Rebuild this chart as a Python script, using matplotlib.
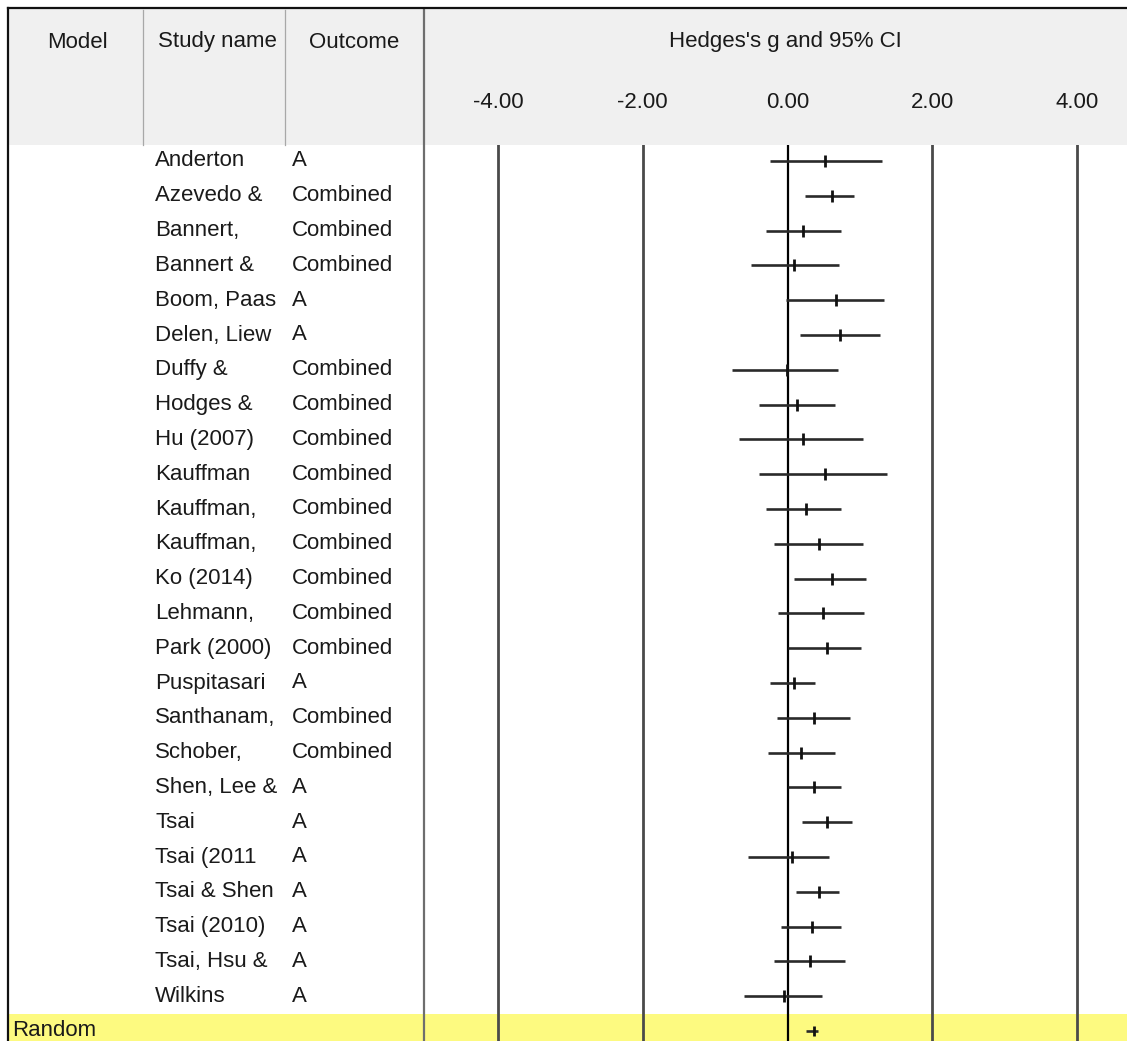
import matplotlib
matplotlib.use("Agg")
import matplotlib.pyplot as plt
import matplotlib.transforms as mtransforms
from matplotlib.patches import Rectangle

plt.rcParams['font.family'] = ['Liberation Sans', 'DejaVu Sans']

# ---------------- data ----------------
studies = ["Anderton", "Azevedo &", "Bannert,", "Bannert &", "Boom, Paas",
           "Delen, Liew", "Duffy &", "Hodges &", "Hu (2007)", "Kauffman",
           "Kauffman,", "Kauffman,", "Ko (2014)", "Lehmann,", "Park (2000)",
           "Puspitasari", "Santhanam,", "Schober,", "Shen, Lee &", "Tsai",
           "Tsai (2011", "Tsai & Shen", "Tsai (2010)", "Tsai, Hsu &", "Wilkins"]
outcomes = ["A", "Combined", "Combined", "Combined", "A",
            "A", "Combined", "Combined", "Combined", "Combined",
            "Combined", "Combined", "Combined", "Combined", "Combined",
            "A", "Combined", "Combined", "A", "A",
            "A", "A", "A", "A", "A"]
g = [0.52, 0.61, 0.21, 0.09, 0.67, 0.73, -0.01, 0.13, 0.21, 0.52,
     0.25, 0.43, 0.61, 0.49, 0.55, 0.09, 0.37, 0.19, 0.37, 0.55,
     0.06, 0.43, 0.34, 0.31, -0.05]
lower = [-0.24, 0.24, -0.30, -0.51, -0.02, 0.17, -0.76, -0.39, -0.67, -0.39,
         -0.30, -0.19, 0.09, -0.13, 0.01, -0.24, -0.15, -0.27, 0.01, 0.20,
         -0.54, 0.12, -0.09, -0.18, -0.60]
upper = [1.31, 0.92, 0.74, 0.71, 1.33, 1.28, 0.70, 0.65, 1.04, 1.37,
         0.74, 1.04, 1.09, 1.06, 1.01, 0.38, 0.86, 0.65, 0.74, 0.89,
         0.58, 0.71, 0.74, 0.80, 0.47]
pooled_label = "Random"
pooled_g = 0.36
pooled_lower = 0.25
pooled_upper = 0.42
ticks = [-4.0, -2.0, 0.0, 2.0, 4.0]
tick_labels = ["-4.00", "-2.00", "0.00", "2.00", "4.00"]
col_headers = ["Model", "Study name", "Outcome"]
plot_title = "Hedges's g and 95% CI"

# ---------------- layout ----------------
W, H = 1127, 1041
fig = plt.figure(figsize=(W / 100, H / 100), dpi=100)
fig.patch.set_facecolor("white")

bg = fig.add_axes([0, 0, 1, 1])
bg.set_xlim(0, W)
bg.set_ylim(H, 0)
bg.axis("off")

# forest axis: px 425..1127 horizontally, 145..1041 vertically
fx0, fx1, fy0, fy1 = 425, W, 145, H
fax = fig.add_axes([fx0 / W, 1 - fy1 / H, (fx1 - fx0) / W, (fy1 - fy0) / H])
fax.patch.set_alpha(0)
zero_px, unit_px = 787.5, 72.4
fax.set_xlim((fx0 - zero_px) / unit_px, (fx1 - zero_px) / unit_px)
row0_px, row_px = 161.0, 34.8
fax.set_ylim((fy1 - row0_px) / row_px, (fy0 - row0_px) / row_px)
fax.axis("off")

txt_color = "#1a1a1a"
fs = 16

# header background
bg.add_patch(Rectangle((8, 8), W - 8, 137, facecolor="#f0f0f0", edgecolor="none", zorder=0))
# pooled row background
n = len(studies)
pooled_row = n
pool_top = row0_px + (pooled_row - 0.5) * row_px
bg.add_patch(Rectangle((8, pool_top), W - 8, H - pool_top, facecolor="#fdfa80",
                       edgecolor="none", zorder=0))
# borders
bg.plot([8, 8], [8, H], color="#111111", lw=1.6, zorder=3)
bg.plot([8, W], [8, 8], color="#111111", lw=1.6, zorder=3)
# header separators
for xs in (143, 285):
    bg.plot([xs, xs], [10, 145], color="#a8a8a8", lw=0.9, zorder=2)
bg.plot([424, 424], [10, H], color="#6e6e6e", lw=1.6, zorder=2)

# header texts
for label, xc in zip(col_headers, (77, 217, 354)):
    bg.text(xc, 42, label, ha="center", va="center", fontsize=fs, color=txt_color)
bg.text(785, 42, plot_title, ha="center", va="center", fontsize=fs, color=txt_color)

# tick labels in header (x from forest axis, y in pixels)
tr_tick = mtransforms.blended_transform_factory(fax.transData, bg.transData)
for t, lab in zip(ticks, tick_labels):
    bg.text(t, 102, lab, transform=tr_tick, ha="center", va="center",
            fontsize=fs, color=txt_color)

# vertical reference lines
for t in ticks:
    if t == 0:
        fax.axvline(t, color="#000000", lw=1.6, zorder=2)
    else:
        fax.axvline(t, color="#4a4a4a", lw=2.0, zorder=2)

# table text (x in pixels, y from forest rows)
tr_row = mtransforms.blended_transform_factory(bg.transData, fax.transData)
for i, (s, o) in enumerate(zip(studies, outcomes)):
    bg.text(155, i, s, transform=tr_row, ha="left", va="center", fontsize=fs, color=txt_color)
    bg.text(292, i, o, transform=tr_row, ha="left", va="center", fontsize=fs, color=txt_color)
bg.text(12, pooled_row, pooled_label, transform=tr_row, ha="left", va="center",
        fontsize=fs, color=txt_color)

# CIs
rows = list(range(n))
fax.hlines(rows, lower, upper, color="#2a2a2a", lw=1.9, zorder=3)
fax.plot(g, rows, linestyle="none", marker="|", markersize=8, mew=2.0,
         color="#111111", zorder=4)
fax.hlines([pooled_row], [pooled_lower], [pooled_upper], color="#2a2a2a", lw=1.9, zorder=3)
fax.plot([pooled_g], [pooled_row], linestyle="none", marker="|", markersize=7,
         mew=2.0, color="#111111", zorder=4)

fig.savefig("out.png", dpi=100, facecolor="white")
